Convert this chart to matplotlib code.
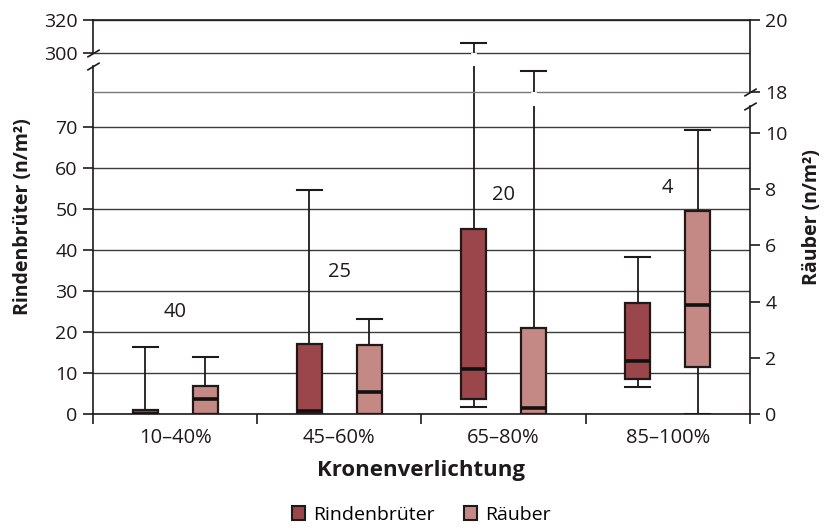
import matplotlib
matplotlib.use("Agg")
import matplotlib.pyplot as plt
import numpy as np
from matplotlib.patches import Patch
from matplotlib.ticker import NullLocator

plt.rcParams["font.family"] = ["Open Sans", "DejaVu Sans"]

# ---- data ----
categories = ["10–40%", "45–60%", "65–80%", "85–100%"]
sample_n = ["40", "25", "20", "4"]
sample_n_y = [24.9, 34.7, 53.5, 55.2]

# Rindenbrüter (left axis, n/m²)
rb_min = [0.0, 0.0, 1.6, 6.7]
rb_q1 = [0.0, 0.0, 3.7, 8.5]
rb_med = [0.0, 0.7, 10.9, 13.0]
rb_q3 = [1.0, 17.1, 45.2, 27.1]
rb_max = [16.4, 54.6, 306.0, 38.3]

# Räuber (right axis, n/m²)
ra_min = [0.0, 0.0, 0.0, 0.0]
ra_q1 = [0.0, 0.0, 0.0, 1.69]
ra_med = [0.53, 0.79, 0.22, 3.89]
ra_q3 = [1.0, 2.44, 3.06, 7.23]
ra_max = [2.03, 3.37, 18.58, 10.1]

left_ticks = [0, 10, 20, 30, 40, 50, 60, 70, 300, 320]
right_ticks = [0, 2, 4, 6, 8, 10, 18, 20]

# ---- broken-axis scales ----
L_BREAK = (85.0, 300.0)
R_BREAK = (10.97, 18.0)
L_XP = [-1000.0, L_BREAK[0], L_BREAK[1], 1000.0]
L_FP = [-1000.0 * 4.096, L_BREAK[0] * 4.096, 361.0, 361.0 + 700.0 * 1.65]
R_XP = [-100.0, R_BREAK[0], R_BREAK[1], 100.0]
R_FP = [-100.0 * 28.1, R_BREAK[0] * 28.1, 322.0, 322.0 + 82.0 * 36.0]


def _fwd(xp, fp):
    return lambda v: np.interp(v, xp, fp)


def _inv(xp, fp):
    return lambda u: np.interp(u, fp, xp)


RB_COLOR = "#9b464a"
RA_COLOR = "#c58985"
INK = "#1f1a1a"
GRID = "#3c3c3c"
FS = 14

fig = plt.figure(figsize=(8.26, 5.28), dpi=100)
ax = fig.add_axes([93 / 826, 114 / 528, 657 / 826, 394 / 528])
ax2 = ax.twinx()

ax.set_yscale("function", functions=(_fwd(L_XP, L_FP), _inv(L_XP, L_FP)))
ax2.set_yscale("function", functions=(_fwd(R_XP, R_FP), _inv(R_XP, R_FP)))
ax.set_ylim(0, 320)
ax2.set_ylim(0, 20)
ax.set_xlim(0.5, len(categories) + 0.5)

x = np.arange(1, len(categories) + 1)
offset = 0.183
width = 0.152


def _stats(lo, q1, med, q3, hi):
    return [
        dict(whislo=a, q1=b, med=c, q3=d, whishi=e, fliers=[])
        for a, b, c, d, e in zip(lo, q1, med, q3, hi)
    ]


def _draw(axis, stats, pos, color):
    axis.bxp(
        stats,
        positions=pos,
        widths=width,
        capwidths=width,
        patch_artist=True,
        showfliers=False,
        boxprops=dict(facecolor=color, edgecolor=INK, linewidth=1.6),
        medianprops=dict(color="#111111", linewidth=2.6),
        whiskerprops=dict(color=INK, linewidth=1.3),
        capprops=dict(color=INK, linewidth=1.5),
        zorder=3,
    )


_draw(ax, _stats(rb_min, rb_q1, rb_med, rb_q3, rb_max), x - offset, RB_COLOR)
_draw(ax2, _stats(ra_min, ra_q1, ra_med, ra_q3, ra_max), x + offset, RA_COLOR)

# whisker gaps where a whisker crosses its axis break
for p, hi in zip(x - offset, rb_max):
    if hi > L_BREAK[1]:
        ax.vlines(p, L_BREAK[0], L_BREAK[1] - 1, color="white", lw=4, zorder=4)
for p, hi in zip(x + offset, ra_max):
    if hi > R_BREAK[1]:
        ax2.vlines(p, R_BREAK[0], R_BREAK[1] - 0.05, color="white", lw=4, zorder=4)

# grid
ax.set_yticks(left_ticks)
ax.yaxis.set_minor_locator(NullLocator())
ax.grid(axis="y", color=GRID, linewidth=1.0, zorder=0)
ax.set_axisbelow(True)
ax2.set_yticks(right_ticks)
ax2.yaxis.set_minor_locator(NullLocator())
ax2.axhline(R_BREAK[1], color="#777777", linewidth=1.0, zorder=0)

# x axis: labels at centres, ticks at category boundaries
ax.set_xticks(x)
ax.set_xticklabels(categories)
ax.set_xticks(np.arange(0.5, len(categories) + 1, 1.0), minor=True)
ax.tick_params(axis="x", which="major", length=0, pad=10, labelsize=FS + 0.5, colors=INK)
ax.tick_params(axis="x", which="minor", length=7, width=1.2, color=INK)

ax.tick_params(axis="y", length=7, width=1.2, color=INK, labelsize=FS, labelcolor=INK, pad=4)
ax2.tick_params(axis="y", length=7, width=1.2, color=INK, labelsize=FS, labelcolor=INK, pad=4)

# spines with breaks
for a in (ax, ax2):
    for s in a.spines.values():
        s.set_color(INK)
        s.set_linewidth(1.2)
ax.spines["right"].set_visible(False)
ax2.spines["left"].set_visible(False)
ax2.spines["top"].set_visible(False)
ax2.spines["bottom"].set_visible(False)
ax.spines["left"].set_bounds(0, L_BREAK[0])
ax2.spines["right"].set_bounds(0, R_BREAK[0])
ax.plot([0, 0], [L_BREAK[1], 320], color=INK, lw=1.2,
        transform=ax.get_yaxis_transform(), clip_on=False)
ax2.plot([1, 1], [R_BREAK[1], 20], color=INK, lw=1.2,
         transform=ax2.get_yaxis_transform(), clip_on=False)
slash = [(-1, -0.6), (1, 0.6)]
ax.plot([0, 0], list(L_BREAK), marker=slash, markersize=9, linestyle="none",
        color=INK, mew=1.2, transform=ax.get_yaxis_transform(), clip_on=False)
ax2.plot([1, 1], list(R_BREAK), marker=slash, markersize=9, linestyle="none",
         color=INK, mew=1.2, transform=ax2.get_yaxis_transform(), clip_on=False)

# sample sizes
for xi, label, yi in zip(x, sample_n, sample_n_y):
    ax.text(xi, yi, label, ha="center", va="center", fontsize=FS + 0.5, color=INK, zorder=5)

ax.set_xlabel("Kronenverlichtung", fontsize=16, fontweight="bold", color=INK, labelpad=9)
ax.set_ylabel("Rindenbrüter (n/m²)", fontsize=FS, fontweight="bold", color=INK, labelpad=8)
ax2.set_ylabel("Räuber (n/m²)", fontsize=FS, fontweight="bold", color=INK, labelpad=10)

handles = [
    Patch(facecolor=RB_COLOR, edgecolor=INK, linewidth=1.5, label="Rindenbrüter"),
    Patch(facecolor=RA_COLOR, edgecolor=INK, linewidth=1.5, label="Räuber"),
]
fig.legend(handles=handles, loc="lower center", bbox_to_anchor=(0.51, -0.025), ncol=2,
           frameon=False, fontsize=FS, handlelength=0.7, handleheight=0.7,
           handletextpad=0.4, columnspacing=1.5)

fig.savefig("out.png", dpi=100, facecolor="white")
